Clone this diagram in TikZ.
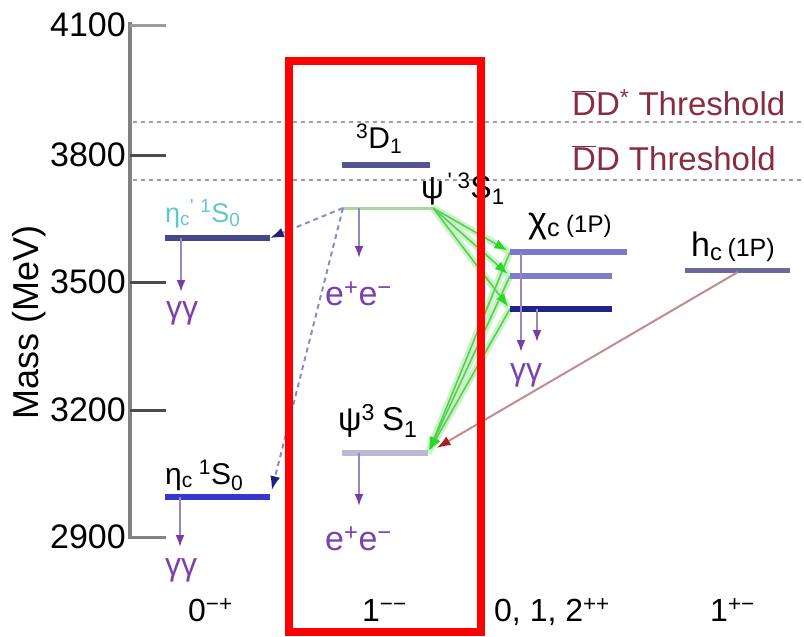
\documentclass[tikz,border=0pt]{standalone}
\usepackage{fontspec}
\setmainfont{Liberation Sans}
\usetikzlibrary{arrows.meta}

\definecolor{boxred}{RGB}{255,0,0}
\definecolor{axisgray}{RGB}{130,130,130}
\definecolor{thrgray}{RGB}{175,150,155}
\definecolor{thrtext}{RGB}{135,45,65}
\definecolor{decayline}{RGB}{150,135,190}
\definecolor{decayhead}{RGB}{120,60,170}
\definecolor{ggtext}{RGB}{125,65,175}
\definecolor{gline}{RGB}{90,205,90}
\definecolor{ghalo}{RGB}{200,245,195}
\definecolor{ghead}{RGB}{40,215,40}
\definecolor{mixline}{RGB}{140,140,190}
\definecolor{mixhead}{RGB}{30,30,130}
\definecolor{hcline}{RGB}{195,140,140}
\definecolor{hchead}{RGB}{175,30,30}
\definecolor{etaptext}{RGB}{95,200,200}
\definecolor{etacpcol}{RGB}{70,70,140}
\definecolor{etaccol}{RGB}{55,55,205}
\definecolor{psipcol}{RGB}{170,215,160}
\definecolor{dcol}{RGB}{85,85,145}
\definecolor{jpsicol}{RGB}{185,185,210}
\definecolor{chiTcol}{RGB}{120,120,205}
\definecolor{chiIcol}{RGB}{125,125,200}
\definecolor{chiOcol}{RGB}{35,35,135}
\definecolor{hccol}{RGB}{105,105,155}

\newcommand{\fsz}[1]{\fontsize{#1}{#1}\selectfont}

\begin{document}
\begin{tikzpicture}[x=1pt,y=-1pt,>=Latex,
  level/.style={line width=6pt},
  tick/.style={line width=3pt},
  ticklab/.style={font=\fsz{34},inner sep=0pt},
  lab/.style={font=\fsz{30},inner sep=0pt,anchor=base west},
  decay/.style={draw=decayline,line width=2pt,-{Latex[length=12pt,width=9pt,color=decayhead]}},
  ggnode/.style={font=\fsz{32},text=ggtext,inner sep=0pt},
  gtrans/.style={draw=gline,line width=1.6pt,-{Latex[length=13pt,width=10pt,color=ghead]}},
  glow/.style={draw=ghalo,line width=7pt},
  mixing/.style={draw=mixline,line width=2pt,dash pattern=on 5pt off 4pt,-{Latex[length=14pt,width=10pt,color=mixhead]}},
  thresh/.style={draw=thrgray,line width=2pt,dash pattern=on 4pt off 4pt}]
\useasboundingbox (0,0) rectangle (804,637);

% axis
\draw[axisgray,line width=4.5pt] (130,22) -- (130,539);
\foreach \m/\y/\c in {4100/25/axisgray!80,3800/155/black!70,3500/282/black!70,3200/410/black!70,2900/537/axisgray}{
  \draw[tick,\c] (130,\y) -- (166,\y);
  \node[ticklab,anchor=east] (t\m) at (126,\y) {\m};
}
\node[font=\fsz{36},rotate=90] (masslab) at (29,322) {Mass (MeV)};

% thresholds
\foreach \y in {122,180}{\draw[thresh] (133,\y) -- (804,\y);}
\node[lab,font=\fsz{33},text=thrtext] (ddstar) at (572,115) {$\overline{\mbox{D}}$D\textsuperscript{*} Threshold};
\node[lab,font=\fsz{33},text=thrtext] (dd) at (572,170) {$\overline{\mbox{D}}$D Threshold};

% level ends
\coordinate (etacpL) at (165,238); \coordinate (etacpR) at (270,238);
\coordinate (etacL) at (165,497);  \coordinate (etacR) at (270,497);
\coordinate (psipL) at (343,208);  \coordinate (psipR) at (433,208);
\coordinate (dL) at (342,165);     \coordinate (dR) at (430,165);
\coordinate (jpsiL) at (342,453);  \coordinate (jpsiR) at (428,453);
\coordinate (chiTL) at (510,252);  \coordinate (chiTR) at (627,252);
\coordinate (chiIL) at (510,276);  \coordinate (chiIR) at (612,276);
\coordinate (chiOL) at (510,309);  \coordinate (chiOR) at (612,309);
\coordinate (hcL) at (685,270);    \coordinate (hcR) at (790,270);
\coordinate (hcM) at (738,272);

% green E1 lines
\foreach \c in {chiT,chiI,chiO}{
  \draw[glow] (psipR) -- (\c L);
  \draw[glow] (\c L) -- (jpsiR);
}
\foreach \c in {chiT,chiI,chiO}{
  \draw[gtrans,shorten >=3pt] (psipR) -- (\c L);
  \draw[gtrans,shorten >=3pt] (\c L) -- (jpsiR);
}

% levels
\draw[level,etacpcol] (etacpL) -- (etacpR);
\draw[level,etaccol] (etacL) -- (etacR);
\draw[line width=3pt,psipcol] (psipL) -- (psipR);
\draw[level,dcol] (dL) -- (dR);
\draw[level,jpsicol] (jpsiL) -- (jpsiR);
\draw[level,chiTcol] (chiTL) -- (chiTR);
\draw[level,chiIcol] (chiIL) -- (chiIR);
\draw[level,chiOcol] (chiOL) -- (chiOR);
\draw[line width=5pt,hccol] (hcL) -- (hcR);

% other transitions
\draw[mixing] (psipL) -- (etacpR);
\draw[mixing,shorten >=7pt] (psipL) -- (etacR);
\draw[draw=hcline,line width=2pt,shorten >=10pt,-{Latex[length=14pt,width=10pt,color=hchead]}] (hcM) -- (jpsiR);

% decays
\coordinate (ggA) at (181,292);
\coordinate (ggB) at (180,547);
\coordinate (eeA) at (359,258);
\coordinate (eeB) at (359,506);
\coordinate (ggC) at (521,352);
\coordinate (ggD) at (537,342);
\draw[decay] (ggA |- etacpL) -- (ggA);
\draw[decay] (ggB |- etacL) -- (ggB);
\draw[decay] (eeA |- psipL) -- (eeA);
\draw[decay] (eeB |- jpsiL) -- (eeB);
\draw[decay] (ggC |- chiTL) -- (ggC);
\draw[decay] (ggD |- chiOL) -- (ggD);
\node[ggnode] (ggetacp) at (182,313) {γγ};
\node[ggnode] (ggetac) at (181,570) {γγ};
\node[ggnode] (ggchi) at (526,375) {γγ};
\node[lab,font=\fsz{34},text=ggtext] (eepsip) at (325,305) {e\textsuperscript{+}e\textsuperscript{−}};
\node[lab,font=\fsz{34},text=ggtext] (eejpsi) at (325,550) {e\textsuperscript{+}e\textsuperscript{−}};

% state labels
\node[lab,font=\fsz{27},text=etaptext] (etacplab) at (165,222) {η\textsubscript{c}\textsuperscript{\textquotesingle}\hspace{6pt}\textsuperscript{1}S\textsubscript{0}};
\node[lab] (etaclab) at (165,484) {η\textsubscript{c}\hspace{6pt}\textsuperscript{1}S\textsubscript{0}};
\node[lab] (dlab) at (356,148) {\textsuperscript{3}D\textsubscript{1}};
\node[lab,font=\fsz{32}] (psiplab) at (421,198) {ψ\textsuperscript{\,\textquotesingle}\hspace{5pt}\textsuperscript{3}S\textsubscript{1}};
\node[lab,font=\fsz{33}] (jpsilab) at (338,430) {ψ\textsuperscript{3}\hspace{7pt}S\textsubscript{1}};
\node[lab,font=\fsz{36}] (chilab) at (528,232) {χ\textsubscript{c}\,{\fsz{24}(1P)}};
\node[lab,font=\fsz{34}] (hclab) at (691,256) {h\textsubscript{c}\hspace{5pt}{\fsz{25}(1P)}};

% J^PC
\node[lab,font=\fsz{32}] (jpc0) at (188,621) {0\textsuperscript{−+}};
\node[lab,font=\fsz{32}] (jpc1) at (362,621) {1\textsuperscript{−−}};
\node[lab,font=\fsz{32}] (jpc2) at (494,621) {0, 1, 2\textsuperscript{++}};
\node[lab,font=\fsz{32}] (jpc3) at (710,621) {1\textsuperscript{+−}};

% box
\draw[boxred,line width=8pt] (289,61) rectangle (481,632);
\end{tikzpicture}
\end{document}
